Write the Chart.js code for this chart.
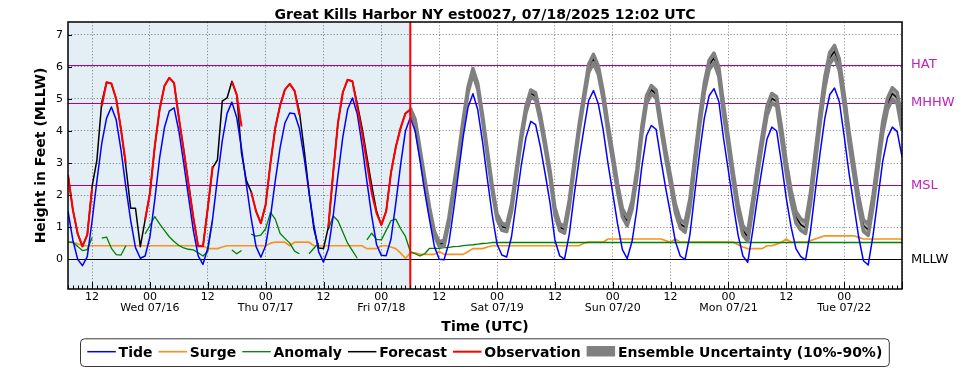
<!DOCTYPE html>
<html><head><meta charset="utf-8">
<script src="https://cdn.jsdelivr.net/npm/chart.js@4.4.1/dist/chart.umd.min.js"></script>
<style>html,body{margin:0;padding:0;background:#fff;overflow:hidden}canvas{display:block}</style>
</head><body>
<canvas id="c" width="969" height="370"></canvas>
<script>
// Hours are relative to 2025-07-16 00:00 UTC; one value per hour.
const START_HOUR = -17;
const END_HOUR = 156;
const NOW_HOUR = 54;

const dayLabels = ['Wed 07/16','Thu 07/17','Fri 07/18','Sat 07/19','Sun 07/20','Mon 07/21','Tue 07/22'];
const datumNames  = ['HAT','MHHW','MSL','MLLW'];
const datumValues = [6.06, 4.87, 2.31, 0];
const titleText = 'Great Kills Harbor NY est0027, 07/18/2025 12:02 UTC';

// hours -17 .. 156
const tide = [
 1.5, 0.6, 0.0, -0.2, 0.08, 1.2, 2.45, 3.61, 4.4, 4.75, 4.35, 3.4,
 2.25, 1.21, 0.36, 0.03, 0.1, 0.7, 1.85, 3.15, 4.1, 4.62, 4.72, 4.0,
 3.0, 1.95, 0.9, 0.1, -0.16, 0.35, 1.26, 2.52, 3.69, 4.55, 4.9, 4.42,
 3.45, 2.33, 1.27, 0.4, 0.06, 0.42, 1.32, 2.45, 3.48, 4.25, 4.56, 4.54,
 4.08, 3.15, 2.08, 1.07, 0.23, -0.09, 0.32, 1.34, 2.62, 3.8, 4.67, 5.03,
 4.54, 3.56, 2.43, 1.35, 0.46, 0.12, 0.11, 0.63, 1.75, 2.95, 4.0, 4.42,
 4.0, 3.1, 2.1, 1.23, 0.4, 0.0, -0.02, 0.5, 1.55, 2.7, 3.85, 4.75,
 5.16, 4.66, 3.65, 2.49, 1.38, 0.47, 0.13, 0.07, 0.7, 1.8, 2.9, 3.8,
 4.3, 4.2, 3.5, 2.65, 1.75, 0.6, 0.1, 0.0, 0.8, 2.0, 3.1, 4.05,
 4.95, 5.26, 4.85, 4.05, 3.0, 2.06, 1.1, 0.3, 0.02, 0.55, 1.55, 2.85,
 3.85, 4.17, 4.05, 3.1, 2.2, 1.4, 0.55, 0.1, -0.01, 0.75, 2.05, 3.3,
 4.4, 5.1, 5.32, 4.92, 3.75, 2.75, 1.7, 0.75, 0.1, -0.1, 0.85, 1.9,
 2.85, 3.75, 4.12, 4.0, 3.0, 1.9, 1.0, 0.33, 0.08, -0.02, 0.85, 2.1,
 3.3, 4.4, 5.13, 5.34, 4.92, 3.85, 2.7, 1.7, 0.7, -0.05, -0.18, 0.75,
 1.9, 3.05, 3.8, 4.12, 3.98, 3.2
];

const surge = [
 0.53, 0.53, 0.48, 0.42, 0.42, 0.42, 0.42, 0.42, 0.42, 0.42, 0.42, 0.42,
 0.42, 0.42, 0.42, 0.42, 0.42, 0.42, 0.42, 0.42, 0.42, 0.42, 0.42, 0.42,
 0.42, 0.42, 0.42, 0.42, 0.42, 0.33, 0.33, 0.33, 0.38, 0.42, 0.42, 0.42,
 0.42, 0.42, 0.42, 0.42, 0.42, 0.42, 0.5, 0.53, 0.53, 0.53, 0.42, 0.53,
 0.53, 0.53, 0.53, 0.42, 0.42, 0.42, 0.42, 0.42, 0.42, 0.42, 0.42, 0.42,
 0.42, 0.42, 0.33, 0.33, 0.33, 0.42, 0.42, 0.38, 0.33, 0.19, 0.03, 0.19,
 0.2, 0.15, 0.15, 0.15, 0.15, 0.24, 0.15, 0.15, 0.15, 0.15, 0.15, 0.24,
 0.33, 0.33, 0.33, 0.38, 0.42, 0.42, 0.42, 0.42, 0.42, 0.42, 0.42, 0.42,
 0.42, 0.42, 0.42, 0.42, 0.42, 0.42, 0.42, 0.42, 0.42, 0.42, 0.42, 0.5,
 0.53, 0.53, 0.53, 0.53, 0.63, 0.63, 0.63, 0.63, 0.63, 0.63, 0.63, 0.63,
 0.63, 0.63, 0.63, 0.63, 0.58, 0.53, 0.63, 0.53, 0.53, 0.53, 0.53, 0.53,
 0.53, 0.53, 0.53, 0.53, 0.53, 0.53, 0.53, 0.45, 0.38, 0.33, 0.33, 0.33,
 0.33, 0.42, 0.42, 0.47, 0.53, 0.63, 0.53, 0.53, 0.53, 0.53, 0.58, 0.63,
 0.68, 0.73, 0.73, 0.73, 0.73, 0.73, 0.73, 0.73, 0.68, 0.63, 0.63, 0.63,
 0.63, 0.63, 0.63, 0.63, 0.63, 0.63
];

const anomaly = [
 0.53, 0.52, 0.4, 0.27, 0.3, 0.68, null, 0.66, 0.69, 0.34, 0.14, 0.13,
 0.42, null, null, null, 0.79, 1.05, 1.33, 1.1, 0.9, 0.7, 0.55, 0.43,
 0.35, 0.31, 0.29, 0.2, 0.1, 0.24, 1.23, null, null, null, 0.29, 0.17,
 0.27, null, 0.78, 0.72, 0.75, 0.95, 1.46, 1.25, 0.8, 0.65, 0.5, 0.25,
 0.17, null, 0.17, 0.34, 0.5, null, 0.92, 1.35, 1.2, 0.85, 0.5, 0.27,
 0.03, null, 0.6, 0.81, 0.62, 0.6, 0.9, 1.2, 1.25, 0.95, 0.71, 0.24,
 0.17, 0.1, 0.17, 0.34, 0.34, 0.34, 0.36, 0.37, 0.39, 0.4, 0.42, 0.44,
 0.45, 0.47, 0.49, 0.5, 0.52, 0.52, 0.52, 0.52, 0.52, 0.52, 0.52, 0.52,
 0.52, 0.52, 0.52, 0.52, 0.52, 0.52, 0.52, 0.52, 0.52, 0.52, 0.52, 0.52,
 0.52, 0.52, 0.52, 0.52, 0.52, 0.52, 0.52, 0.52, 0.52, 0.52, 0.52, 0.52,
 0.52, 0.52, 0.52, 0.52, 0.52, 0.52, 0.52, 0.52, 0.52, 0.52, 0.52, 0.52,
 0.52, 0.52, 0.52, 0.52, 0.52, 0.52, 0.52, 0.52, 0.52, 0.52, 0.52, 0.52,
 0.52, 0.52, 0.52, 0.52, 0.52, 0.52, 0.52, 0.52, 0.52, 0.52, 0.52, 0.52,
 0.52, 0.52, 0.52, 0.52, 0.52, 0.52, 0.52, 0.52, 0.52, 0.52, 0.52, 0.52,
 0.52, 0.52, 0.52, 0.52, 0.52, 0.52
];

const forecast = [
 2.63, 1.55, 0.8, 0.4, 0.76, 2.27, 3.1, 4.9, 5.52, 5.48, 5.0, 4.04,
 2.9, 1.59, 1.59, 0.39, 1.23, 2.06, 3.52, 4.67, 5.4, 5.66, 5.5, 4.4,
 3.4, 2.35, 1.3, 0.4, 0.4, 1.6, 2.85, 3.1, 4.93, 5.03, 5.55, 5.13,
 3.3, 2.45, 2.1, 1.5, 1.12, 1.7, 3.0, 4.1, 4.8, 5.29, 5.47, 5.25,
 4.6, 3.4, 2.1, 0.95, 0.35, 0.33, 1.0, 2.69, 4.25, 5.2, 5.6, 5.55,
 4.85, 4.1, 3.2, 2.3, 1.5, 1.07, 1.5, 2.7, 3.5, 4.1, 4.55, 4.65,
 4.3, 3.4, 2.45, 1.55, 0.8, 0.47, 0.5, 1.2, 2.2, 3.2, 4.3, 5.3,
 5.86, 5.39, 4.41, 3.29, 2.21, 1.33, 1.01, 0.97, 1.6, 2.7, 3.78, 4.67,
 5.17, 5.08, 4.4, 3.55, 2.65, 1.5, 1.0, 0.92, 1.75, 2.95, 4.07, 5.03,
 5.95, 6.26, 5.9, 5.12, 4.1, 3.18, 2.23, 1.45, 1.17, 1.68, 2.67, 3.97,
 4.97, 5.29, 5.15, 4.18, 3.26, 2.45, 1.58, 1.1, 0.99, 1.73, 3.02, 4.26,
 5.36, 6.06, 6.28, 5.85, 4.65, 3.63, 2.55, 1.57, 0.9, 0.7, 1.67, 2.75,
 3.72, 4.63, 5.02, 4.92, 3.93, 2.85, 1.97, 1.31, 1.08, 0.98, 1.88, 3.16,
 4.39, 5.52, 6.27, 6.49, 6.06, 4.98, 3.82, 2.81, 1.8, 1.05, 0.92, 1.83,
 2.97, 4.11, 4.85, 5.17, 5.03, 4.2
];

// hours -17 .. 54
const observation = [
 2.63, 1.55, 0.8, 0.4, 0.76, 2.2, null, 4.77, 5.52, 5.48, 5.0, 4.04,
 3.0, null, null, null, 1.23, 2.06, 3.52, 4.67, 5.4, 5.66, 5.5, 4.4,
 3.4, 2.35, 1.3, 0.4, 0.4, 1.6, 2.9, null, null, null, 5.55, 5.13,
 4.14, null, 2.1, 1.5, 1.12, 1.7, 3.0, 4.1, 4.8, 5.29, 5.47, 5.25,
 4.5, null, null, null, null, null, 1.0, 2.69, 4.25, 5.2, 5.6, 5.55,
 4.75, 3.94, 3.0, 2.06, 1.44, 1.07, 1.49, 2.7, 3.5, 4.1, 4.55, 4.67
];

// hours 54 .. 156 (10% and 90% ensemble bounds)
const ensLow = [
 4.58, 4.23, 3.33, 2.38, 1.48, 0.73, 0.40, 0.41, 1.11, 2.11, 3.11, 4.21,
 5.21, 5.77, 5.30, 4.32, 3.20, 2.12, 1.24, 0.90, 0.86, 1.49, 2.59, 3.67,
 4.56, 5.06, 4.97, 4.29, 3.44, 2.54, 1.39, 0.89, 0.81, 1.64, 2.84, 3.96,
 4.92, 5.82, 6.13, 5.77, 4.99, 3.97, 3.05, 2.10, 1.32, 1.04, 1.55, 2.54,
 3.84, 4.84, 5.16, 5.02, 4.05, 3.13, 2.32, 1.45, 0.97, 0.84, 1.58, 2.87,
 4.11, 5.21, 5.91, 6.13, 5.70, 4.50, 3.48, 2.40, 1.42, 0.75, 0.55, 1.52,
 2.60, 3.57, 4.48, 4.87, 4.77, 3.75, 2.67, 1.79, 1.13, 0.90, 0.80, 1.70,
 2.98, 4.21, 5.34, 6.09, 6.31, 5.88, 4.80, 3.64, 2.63, 1.62, 0.87, 0.74,
 1.65, 2.79, 3.93, 4.67, 4.99, 4.85, 4.02
];
const ensHigh = [
 4.72, 4.37, 3.47, 2.52, 1.62, 0.87, 0.54, 0.59, 1.29, 2.29, 3.29, 4.39,
 5.39, 5.95, 5.48, 4.50, 3.38, 2.30, 1.42, 1.12, 1.08, 1.71, 2.81, 3.89,
 4.78, 5.28, 5.19, 4.51, 3.66, 2.76, 1.61, 1.11, 1.03, 1.86, 3.06, 4.18,
 5.14, 6.08, 6.39, 6.03, 5.25, 4.23, 3.31, 2.36, 1.58, 1.30, 1.81, 2.80,
 4.10, 5.10, 5.42, 5.28, 4.31, 3.39, 2.58, 1.71, 1.23, 1.14, 1.88, 3.17,
 4.41, 5.51, 6.21, 6.43, 6.00, 4.80, 3.78, 2.70, 1.72, 1.05, 0.85, 1.82,
 2.90, 3.87, 4.78, 5.17, 5.07, 4.11, 3.03, 2.15, 1.49, 1.26, 1.16, 2.06,
 3.34, 4.57, 5.70, 6.45, 6.67, 6.24, 5.16, 4.00, 2.99, 1.98, 1.23, 1.10,
 2.01, 3.15, 4.29, 5.03, 5.35, 5.21, 4.38
];

function series(values, start) { return values.map((v, i) => ({x: start + i, y: v})); }

const FONT = 'DejaVu Sans';
Chart.defaults.font.family = FONT;
Chart.defaults.color = '#000';

const ENS_LABEL = 'Ensemble Uncertainty (10%-90%)';
const legendOrder = ['Tide','Surge','Anomaly','Forecast','Observation', ENS_LABEL];

const overlay = {
  id: 'overlay',
  beforeDraw(chart) {
    const {ctx, chartArea: a, scales: {x}} = chart;
    ctx.save();
    ctx.fillStyle = '#ffffff';
    ctx.fillRect(0, 0, chart.width, chart.height);
    const xn = x.getPixelForValue(NOW_HOUR);
    ctx.fillStyle = '#e4eef5';
    ctx.fillRect(a.left, a.top, xn - a.left, a.bottom - a.top);
    ctx.restore();
  },
  beforeDatasetsDraw(chart) {
    const {ctx, chartArea: a, scales: {y}} = chart;
    ctx.save();
    datumValues.forEach((v, i) => {
      const py = Math.round(y.getPixelForValue(v)) + 0.5;
      ctx.strokeStyle = datumNames[i] === 'MLLW' ? '#000000' : '#a800a8';
      ctx.lineWidth = 1.2;
      ctx.beginPath(); ctx.moveTo(a.left, py); ctx.lineTo(a.right, py); ctx.stroke();
    });
    ctx.restore();
  },
  afterDatasetsDraw(chart) {
    const {ctx, chartArea: a, scales: {x}} = chart;
    const xn = x.getPixelForValue(NOW_HOUR);
    ctx.save();
    ctx.strokeStyle = '#ff0000'; ctx.lineWidth = 2;
    ctx.beginPath(); ctx.moveTo(xn, a.top); ctx.lineTo(xn, a.bottom); ctx.stroke();
    ctx.restore();
  },
  afterDraw(chart) {
    const {ctx, chartArea: a, scales: {x, y}} = chart;
    ctx.save();
    // frame
    ctx.strokeStyle = '#000'; ctx.lineWidth = 1.5;
    ctx.strokeRect(a.left, a.top, a.right - a.left, a.bottom - a.top);
    // inward ticks
    ctx.lineWidth = 1;
    for (let h = Math.ceil(x.min); h <= x.max; h++) {
      const px = Math.round(x.getPixelForValue(h)) + 0.5;
      const len = (h % 12 === 0) ? 7 : 3.5;
      ctx.beginPath(); ctx.moveTo(px, a.bottom); ctx.lineTo(px, a.bottom - len); ctx.stroke();
    }
    y.ticks.forEach(t => {
      const py = Math.round(y.getPixelForValue(t.value)) + 0.5;
      ctx.beginPath(); ctx.moveTo(a.left, py); ctx.lineTo(a.left + 4, py); ctx.stroke();
    });
    // datum labels
    ctx.font = '13px "' + FONT + '"';
    ctx.textBaseline = 'middle'; ctx.textAlign = 'left';
    datumValues.forEach((v, i) => {
      ctx.fillStyle = datumNames[i] === 'MLLW' ? '#000000' : '#c020c0';
      ctx.fillText(datumNames[i], a.right + 9, y.getPixelForValue(v));
    });
    // title
    ctx.fillStyle = '#000';
    ctx.font = 'bold 14px "' + FONT + '"';
    ctx.textAlign = 'center'; ctx.textBaseline = 'alphabetic';
    ctx.fillText(titleText, (a.left + a.right) / 2, 18.5);
    // legend
    const items = legendOrder.map(l => chart.data.datasets.find(d => d.label === l));
    ctx.font = 'bold 14px "' + FONT + '"';
    ctx.textAlign = 'left';
    const handle = 28.5, gapHT = 2.8, gapItem = 6;
    let cx = 87.3;
    const lineY = 351.7, baseY = 356.6;
    const drawn = [];
    items.forEach(d => {
      const w = ctx.measureText(d.label).width;
      drawn.push({d, x: cx, w});
      cx += handle + gapHT + w + gapItem;
    });
    const boxL = 80, boxT = 338.3, boxR = cx - gapItem + 6.5, boxB = 366;
    ctx.beginPath();
    ctx.roundRect(boxL + 0.5, boxT + 0.5, boxR - boxL, boxB - boxT, 4);
    ctx.fillStyle = '#ffffff'; ctx.fill();
    ctx.strokeStyle = '#3a3a3a'; ctx.lineWidth = 1; ctx.stroke();
    drawn.forEach(({d, x: ix}) => {
      if (d.label === ENS_LABEL) {
        ctx.fillStyle = '#808080';
        ctx.fillRect(ix, 346, handle, 10.5);
      } else {
        ctx.strokeStyle = d.borderColor; ctx.lineWidth = d.borderWidth;
        ctx.beginPath(); ctx.moveTo(ix, lineY); ctx.lineTo(ix + handle, lineY); ctx.stroke();
      }
      ctx.fillStyle = '#000';
      ctx.fillText(d.label, ix + handle + gapHT, baseY);
    });
    ctx.restore();
  }
};

const lineDefaults = {pointRadius: 0, borderJoinStyle: 'round', tension: 0, fill: false, spanGaps: false};

new Chart(document.getElementById('c'), {
  type: 'line',
  data: {
    datasets: [
      Object.assign({}, lineDefaults, {label: 'Ensemble 90%', data: series(ensHigh, NOW_HOUR), borderColor: '#808080', borderWidth: 3.5, order: 4.6}),
      Object.assign({}, lineDefaults, {label: ENS_LABEL, data: series(ensLow, NOW_HOUR), borderColor: '#808080', borderWidth: 3.5, backgroundColor: '#a9a9a9', fill: '-1', order: 4.6}),
      Object.assign({}, lineDefaults, {label: 'Surge', data: series(surge, START_HOUR), borderColor: '#f7941d', borderWidth: 1.7, order: 8}),
      Object.assign({}, lineDefaults, {label: 'Anomaly', data: series(anomaly, START_HOUR), borderColor: '#008000', borderWidth: 1.3, order: 7}),
      Object.assign({}, lineDefaults, {label: 'Forecast', data: series(forecast, START_HOUR), borderColor: '#000000', borderWidth: 1.5, order: 5}),
      Object.assign({}, lineDefaults, {label: 'Tide', data: series(tide, START_HOUR), borderColor: '#0000ff', borderWidth: 1.5, order: 4}),
      Object.assign({}, lineDefaults, {label: 'Observation', data: series(observation, START_HOUR), borderColor: '#ff0000', borderWidth: 2, order: 3})
    ]
  },
  options: {
    responsive: false,
    animation: false,
    events: [],
    devicePixelRatio: 1,
    layout: {padding: {left: 0, right: 67, top: 22, bottom: 0}},
    plugins: {legend: {display: false}, tooltip: {enabled: false}, title: {display: false}, filler: {drawTime: 'beforeDatasetsDraw'}},
    scales: {
      x: {
        type: 'linear', min: START_HOUR, max: END_HOUR,
        afterFit: s => { s.height = 81; },
        ticks: {
          stepSize: 12, autoSkip: false, maxRotation: 0, padding: 3, includeBounds: false,
          font: {size: 11, lineHeight: 1.0},
          callback: v => {
            if (v % 12 !== 0 || v >= END_HOUR || v <= START_HOUR) return '';
            if (v % 24 === 0) return ['00', dayLabels[v / 24]];
            return '12';
          }
        },
        grid: {drawTicks: false, color: 'rgba(0,0,0,0.55)', lineWidth: 0.8},
        border: {display: false, dash: [1.2, 2]},
        title: {display: true, text: 'Time (UTC)', font: {size: 14, weight: 'bold'}, padding: {top: 0, bottom: 34}}
      },
      y: {
        type: 'linear', min: -0.93, max: 7.4,
        afterFit: s => { s.width = 68; },
        ticks: {stepSize: 1, padding: 5, includeBounds: false, font: {size: 11}},
        grid: {drawTicks: false, color: 'rgba(0,0,0,0.55)', lineWidth: 0.8},
        border: {display: false, dash: [1.2, 2]},
        title: {display: true, text: 'Height in Feet (MLLW)', font: {size: 14, weight: 'bold'}, padding: {top: 33, bottom: 0}}
      }
    }
  },
  plugins: [overlay]
});
</script>
</body></html>
